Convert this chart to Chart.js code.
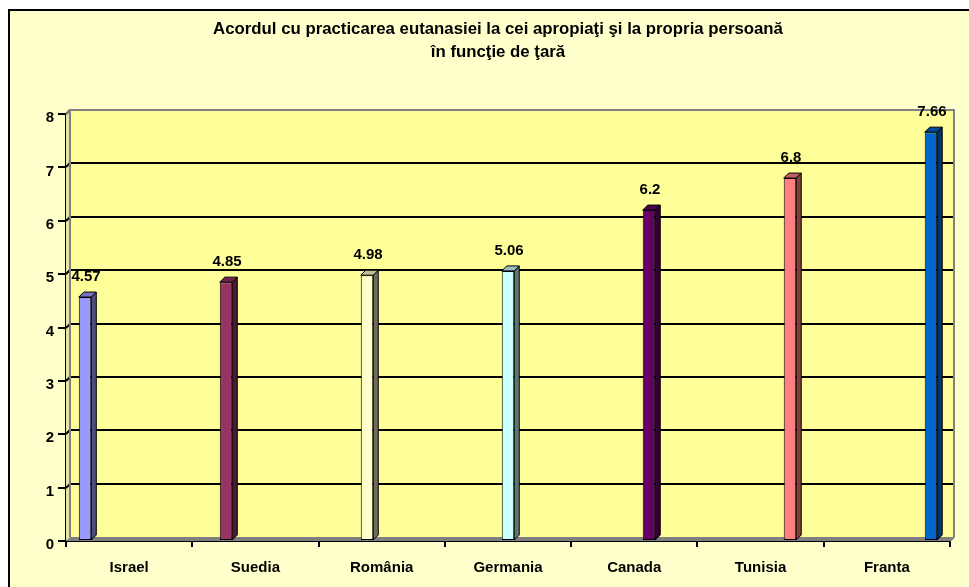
<!DOCTYPE html>
<html>
<head>
<meta charset="utf-8">
<title>Acordul cu practicarea eutanasiei</title>
<script src="https://cdn.jsdelivr.net/npm/chart.js@4/dist/chart.umd.min.js"></script>
<style>
  html, body { margin: 0; padding: 0; background: #fff; }
  canvas { display: block; }
</style>
</head>
<body>
<canvas id="chart" width="969" height="587"></canvas>
<script>
// data
const countries = ['Israel', 'Suedia', 'România', 'Germania', 'Canada', 'Tunisia', 'Franta'];
const scores = [4.57, 4.85, 4.98, 5.06, 6.2, 6.8, 7.66];
const yTicks = [0, 1, 2, 3, 4, 5, 6, 7, 8];
const titleLines = ['Acordul cu practicarea eutanasiei la cei apropiaţi şi la propria persoană', 'în funcţie de ţară'];

// front / side / top colours of each column
const frontColors = ['#9999FF', '#993366', '#FFFFCC', '#CCFFFF', '#660066', '#FF8080', '#0066CC'];
const sideColors = ['#4D4D80', '#4D1A33', '#6E6E58', '#5E7878', '#330033', '#804040', '#003366'];
const topColors = ['#7373BF', '#73264D', '#BFBF99', '#99BFBF', '#4D004D', '#BF6060', '#004C99'];

const FONT = '"Liberation Sans", Arial, sans-serif';
const DX = 4, DY = -4;       // depth of the back wall
const BDX = 5, BDY = -5;     // depth of the columns

// one dataset per country, so every column keeps its own slot
const datasets = countries.map((name, i) => ({
    label: name,
    data: countries.map((_, j) => (j === i ? scores[i] : null)),
    backgroundColor: frontColors[i],
    borderColor: '#000',
    borderWidth: 1,
    borderSkipped: false
}));

// background box, back wall, floor and grid lines
const wallPlugin = {
    id: 'wall',
    beforeDraw(chart) {
        const ctx = chart.ctx;
        ctx.save();
        ctx.fillStyle = '#fff';
        ctx.fillRect(0, 0, chart.width, chart.height);
        ctx.fillStyle = '#FFFFCC';
        ctx.fillRect(8, 10, chart.width, chart.height);
        ctx.strokeStyle = '#000';
        ctx.lineWidth = 2;
        ctx.beginPath();
        ctx.moveTo(9, chart.height + 5);
        ctx.lineTo(9, 10);
        ctx.lineTo(chart.width + 5, 10);
        ctx.stroke();
        ctx.restore();
    },
    beforeDatasetsDraw(chart) {
        const ctx = chart.ctx;
        const a = chart.chartArea;
        const y = chart.scales.y;
        ctx.save();
        // left side wall
        ctx.fillStyle = '#E6E6A0';
        ctx.beginPath();
        ctx.moveTo(a.left, a.bottom);
        ctx.lineTo(a.left + DX, a.bottom + DY);
        ctx.lineTo(a.left + DX, a.top + DY);
        ctx.lineTo(a.left, a.top);
        ctx.closePath();
        ctx.fill();
        // back wall
        ctx.fillStyle = '#FFFF99';
        ctx.fillRect(a.left + DX, a.top + DY, a.right - a.left, a.bottom - a.top);
        // floor
        ctx.fillStyle = '#808080';
        ctx.beginPath();
        ctx.moveTo(a.left, a.bottom);
        ctx.lineTo(a.right, a.bottom);
        ctx.lineTo(a.right + DX, a.bottom + DY);
        ctx.lineTo(a.left + DX, a.bottom + DY);
        ctx.closePath();
        ctx.fill();
        // grid lines on the back wall
        ctx.strokeStyle = '#000';
        ctx.lineWidth = 2;
        yTicks.forEach(v => {
            if (v === 0) return;
            const py = Math.round(y.getPixelForValue(v) + DY);
            ctx.beginPath();
            ctx.moveTo(a.left + DX, py);
            ctx.lineTo(a.right + DX, py);
            ctx.stroke();
            // little diagonal from the axis tick to the wall
            ctx.beginPath();
            ctx.moveTo(a.left, py - DY);
            ctx.lineTo(a.left + DX, py);
            ctx.stroke();
        });
        // wall outline
        ctx.strokeStyle = '#808080';
        ctx.lineWidth = 2;
        ctx.beginPath();
        ctx.moveTo(a.left, a.top);
        ctx.lineTo(a.left + DX, a.top + DY);
        ctx.lineTo(a.right + DX, a.top + DY);
        ctx.lineTo(a.right + DX, a.bottom + DY);
        ctx.lineTo(a.right, a.bottom);
        ctx.moveTo(a.left + DX, a.top + DY);
        ctx.lineTo(a.left + DX, a.bottom + DY);
        ctx.stroke();
        ctx.restore();
    }
};

// side and top faces of the columns, then the value labels
const columnPlugin = {
    id: 'columns',
    afterDatasetsDraw(chart) {
        const ctx = chart.ctx;
        ctx.save();
        ctx.strokeStyle = '#000';
        ctx.lineWidth = 1;
        chart.data.datasets.forEach((ds, i) => {
            const bar = chart.getDatasetMeta(i).data[i];
            if (!bar) return;
            const p = bar.getProps(['x', 'y', 'base', 'width'], true);
            const l = p.x - p.width / 2, r = p.x + p.width / 2;
            ctx.fillStyle = sideColors[i];
            ctx.beginPath();
            ctx.moveTo(r, p.y);
            ctx.lineTo(r + BDX, p.y + BDY);
            ctx.lineTo(r + BDX, p.base + BDY);
            ctx.lineTo(r, p.base);
            ctx.closePath();
            ctx.fill();
            ctx.stroke();
            ctx.fillStyle = topColors[i];
            ctx.beginPath();
            ctx.moveTo(l, p.y);
            ctx.lineTo(l + BDX, p.y + BDY);
            ctx.lineTo(r + BDX, p.y + BDY);
            ctx.lineTo(r, p.y);
            ctx.closePath();
            ctx.fill();
            ctx.stroke();

            ctx.fillStyle = '#000';
            ctx.font = 'bold 15px ' + FONT;
            ctx.textAlign = 'center';
            ctx.textBaseline = 'middle';
            ctx.fillText(String(scores[i]), p.x + 1, p.y - 20);
        });
        ctx.restore();
    }
};

new Chart(document.getElementById('chart'), {
    type: 'bar',
    data: { labels: countries, datasets: datasets },
    options: {
        responsive: false,
        animation: false,
        events: [],
        layout: { padding: { left: 46, right: 19, top: 0, bottom: 0 } },
        datasets: { bar: { categoryPercentage: 0.815, barPercentage: 0.85 } },
        plugins: {
            legend: { display: false },
            tooltip: { enabled: false },
            title: {
                display: true,
                text: titleLines,
                color: '#000',
                font: { family: FONT, size: 16.8, weight: 'bold', lineHeight: '23px' },
                padding: { top: 18, bottom: 50 }
            }
        },
        scales: {
            x: {
                grid: { display: true, drawOnChartArea: false, drawTicks: true, tickLength: 6, color: '#000', lineWidth: 2, offset: true },
                border: { display: true, color: '#000', width: 2 },
                ticks: { color: '#000', font: { family: FONT, size: 15, weight: 'bold' }, padding: 12, maxRotation: 0 },
                afterFit(scale) { scale.height = 46; }
            },
            y: {
                min: 0,
                max: 8,
                afterBuildTicks(scale) { scale.ticks = yTicks.map(v => ({ value: v })); },
                grid: { drawOnChartArea: false, drawTicks: true, tickLength: 8, color: '#000', lineWidth: 2 },
                border: { display: true, color: '#000', width: 2 },
                ticks: { color: '#000', font: { family: FONT, size: 15, weight: 'bold' }, padding: 4, labelOffset: 4 },
                afterFit(scale) { scale.width = 20; }
            }
        }
    },
    plugins: [wallPlugin, columnPlugin]
});
</script>
</body>
</html>
